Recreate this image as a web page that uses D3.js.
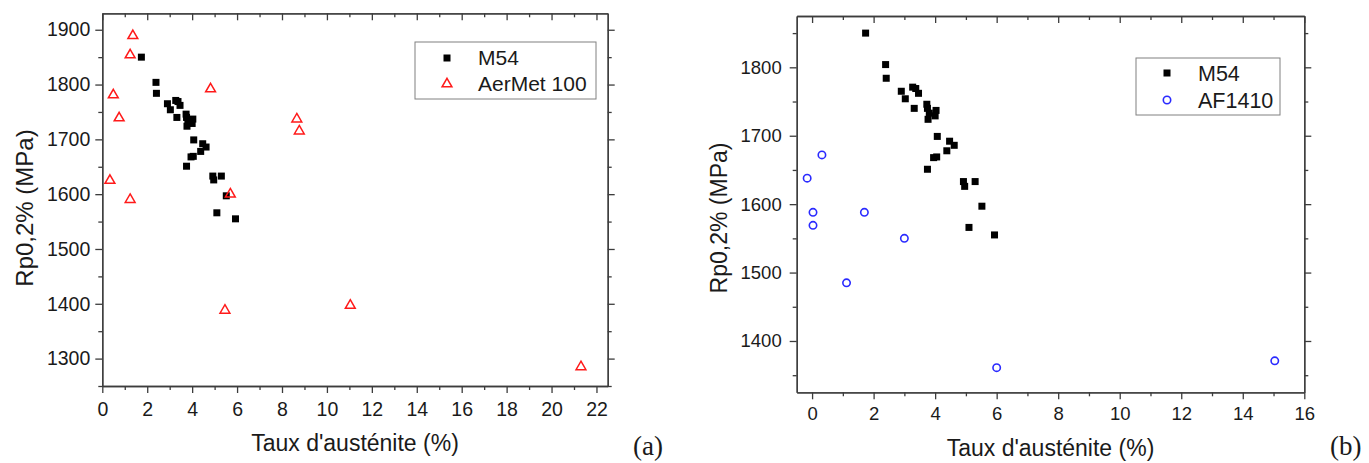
<!DOCTYPE html>
<html>
<head>
<meta charset="utf-8">
<script src="https://cdn.jsdelivr.net/npm/d3@7"></script>
<style>
  html, body { margin: 0; padding: 0; background: #fff; }
  svg { display: block; }
  text { font-family: "Liberation Sans", Arial, sans-serif; fill: #1a1a1a; }
</style>
</head>
<body>
<svg id="chart" width="1369" height="463"></svg>
<script>
// ---------- DATA ----------
// M54 (same series in both panels)
const m54X = [1.74, 2.39, 2.41, 2.90, 3.03, 3.27, 3.37, 3.46, 3.32, 3.73, 3.75, 3.81, 4.03, 4.00, 3.77, 4.07, 4.47, 4.62, 4.38, 3.95, 4.05, 3.75, 4.92, 4.96, 5.30, 5.52, 5.10, 5.93];
const m54Y = [1850, 1804, 1784, 1765, 1754, 1771, 1769, 1762, 1740, 1746, 1740, 1733, 1737, 1729, 1724, 1699, 1692, 1686, 1678, 1668, 1669, 1651, 1633, 1626, 1633, 1597, 1566, 1555];
// AerMet 100 (panel a)
const aerX = [1.36, 1.24, 0.49, 0.75, 0.34, 1.24, 4.82, 5.70, 8.66, 8.77, 5.46, 11.04, 21.31];
const aerY = [1889, 1854, 1781, 1739, 1625, 1590, 1792, 1600, 1737, 1715, 1388, 1397, 1285];
// AF1410 (panel b)
const afX = [-0.16, 0.32, 0.03, 0.03, 1.70, 3.00, 1.12, 6.00, 15.04];
const afY = [1638, 1672, 1588, 1569, 1588, 1550, 1485, 1361, 1371];

// tick values
const aXTicks = [0, 2, 4, 6, 8, 10, 12, 14, 16, 18, 20, 22];
const aYTicks = [1300, 1400, 1500, 1600, 1700, 1800, 1900];
const bXTicks = [0, 2, 4, 6, 8, 10, 12, 14, 16];
const bYTicks = [1400, 1500, 1600, 1700, 1800];

const xTitle = "Taux d'austénite (%)";
const yTitle = "Rp0,2% (MPa)";

// ---------- DRAW ----------
const svg = d3.select("#chart");
const axisColor = "#3c3c3c";

function minorOf(major, step, lo, hi) {
  const out = [];
  for (let v = lo; v <= hi + 1e-9; v += step) {
    const r = Math.round(v * 1000) / 1000;
    if (!major.some(m => Math.abs(m - r) < 1e-6)) out.push(r);
  }
  return out;
}

function panel(cfg) {
  const g = svg.append("g");
  const x = d3.scaleLinear().domain(cfg.xDom).range([cfg.left, cfg.right]);
  const y = d3.scaleLinear().domain(cfg.yDom).range([cfg.bottom, cfg.top]);

  const style = sel => {
    sel.selectAll("path.domain").attr("stroke", axisColor).attr("stroke-width", 1.3);
    sel.selectAll(".tick line").attr("stroke", axisColor).attr("stroke-width", 1.3);
    sel.selectAll(".tick text").attr("fill", "#1a1a1a")
      .style("font-family", '"Liberation Sans", Arial, sans-serif')
      .style("font-size", cfg.tickFont + "px");
  };

  const xMinor = minorOf(cfg.xTicks, 1, Math.ceil(cfg.xDom[0]), Math.floor(cfg.xDom[1]));
  const yMinor = minorOf(cfg.yTicks, 50, Math.ceil(cfg.yDom[0] / 50) * 50, cfg.yDom[1]);

  // bottom
  g.append("g").attr("transform", `translate(0,${cfg.bottom})`)
    .call(d3.axisBottom(x).tickValues(cfg.xTicks).tickSize(7).tickSizeOuter(0).tickPadding(cfg.xPad).tickFormat(d3.format("d")))
    .call(style);
  g.append("g").attr("transform", `translate(0,${cfg.bottom})`)
    .call(d3.axisBottom(x).tickValues(xMinor).tickSize(4).tickSizeOuter(0).tickFormat(""))
    .call(style);
  // top (ticks inward)
  g.append("g").attr("transform", `translate(0,${cfg.top})`)
    .call(d3.axisTop(x).tickValues(cfg.xTicks).tickSize(-7).tickSizeOuter(0).tickFormat(""))
    .call(style);
  g.append("g").attr("transform", `translate(0,${cfg.top})`)
    .call(d3.axisTop(x).tickValues(xMinor).tickSize(-4).tickSizeOuter(0).tickFormat(""))
    .call(style);
  // left
  g.append("g").attr("transform", `translate(${cfg.left},0)`)
    .call(d3.axisLeft(y).tickValues(cfg.yTicks).tickSize(7).tickSizeOuter(0).tickPadding(cfg.yPad).tickFormat(d3.format("d")))
    .call(style);
  g.append("g").attr("transform", `translate(${cfg.left},0)`)
    .call(d3.axisLeft(y).tickValues(yMinor).tickSize(4).tickSizeOuter(0).tickFormat(""))
    .call(style);
  // right (ticks outward)
  g.append("g").attr("transform", `translate(${cfg.right},0)`)
    .call(d3.axisRight(y).tickValues(cfg.yTicks).tickSize(7).tickSizeOuter(0).tickFormat(""))
    .call(style);
  g.append("g").attr("transform", `translate(${cfg.right},0)`)
    .call(d3.axisRight(y).tickValues(yMinor).tickSize(4).tickSizeOuter(0).tickFormat(""))
    .call(style);

  // data: M54 squares
  const sq = 7;
  g.append("g").selectAll("rect").data(d3.zip(m54X, m54Y)).join("rect")
    .attr("x", d => x(d[0]) - sq / 2).attr("y", d => y(d[1]) - sq / 2)
    .attr("width", sq).attr("height", sq).attr("fill", "#000");

  // second series
  const s2 = d3.zip(cfg.s2X, cfg.s2Y);
  if (cfg.s2Type === "triangle") {
    const tri = d3.symbol().type(d3.symbolTriangle).size(42);
    g.append("g").selectAll("path").data(s2).join("path")
      .attr("d", tri).attr("transform", d => `translate(${x(d[0])},${y(d[1])})`)
      .attr("fill", "none").attr("stroke", cfg.s2Color).attr("stroke-width", 1.5);
  } else {
    g.append("g").selectAll("circle").data(s2).join("circle")
      .attr("cx", d => x(d[0])).attr("cy", d => y(d[1])).attr("r", 3.7)
      .attr("fill", "none").attr("stroke", cfg.s2Color).attr("stroke-width", 1.6);
  }

  // legend
  const L = cfg.legend;
  g.append("rect").attr("x", L.x).attr("y", L.y).attr("width", L.w).attr("height", L.h)
    .attr("fill", "#fff").attr("stroke", "#808080").attr("stroke-width", 1);
  g.append("rect").attr("x", L.mx - 3.5).attr("y", L.y1 - 3.5).attr("width", 7).attr("height", 7).attr("fill", "#000");
  if (cfg.s2Type === "triangle") {
    g.append("path").attr("d", d3.symbol().type(d3.symbolTriangle).size(42))
      .attr("transform", `translate(${L.mx},${L.y2})`)
      .attr("fill", "none").attr("stroke", cfg.s2Color).attr("stroke-width", 1.5);
  } else {
    g.append("circle").attr("cx", L.mx).attr("cy", L.y2).attr("r", 3.7)
      .attr("fill", "none").attr("stroke", cfg.s2Color).attr("stroke-width", 1.6);
  }
  g.append("text").attr("x", L.tx).attr("y", L.y1).attr("dy", "0.35em")
    .style("font-size", L.font + "px").text("M54");
  g.append("text").attr("x", L.tx).attr("y", L.y2).attr("dy", "0.35em")
    .style("font-size", L.font + "px").text(cfg.s2Name);

  // axis titles
  g.append("text").attr("x", (cfg.left + cfg.right) / 2).attr("y", cfg.xTitleY)
    .attr("text-anchor", "middle").style("font-size", cfg.xTitleFont + "px").text(xTitle);
  g.append("text").attr("transform", `translate(${cfg.yTitleX},${cfg.yTitleY}) rotate(-90)`)
    .attr("text-anchor", "middle").style("font-size", cfg.yTitleFont + "px").text(yTitle);

  // panel tag
  g.append("text").attr("x", cfg.tagX).attr("y", cfg.tagY)
    .style("font-family", '"Liberation Serif", "DejaVu Serif", serif')
    .style("font-size", "27px").attr("fill", "#111").text(cfg.tag);
}

panel({
  left: 102.3, right: 607.7, top: 13.3, bottom: 386,
  xDom: [0, 22.5], yDom: [1250, 1930],
  xTicks: aXTicks, yTicks: aYTicks,
  tickFont: 19.5, xPad: 9, yPad: 5, xTitleFont: 23, yTitleFont: 24,
  s2X: aerX, s2Y: aerY, s2Type: "triangle", s2Color: "#ff1a1a", s2Name: "AerMet 100",
  legend: { x: 415, y: 42, w: 181, h: 57, mx: 447, y1: 58, y2: 84, tx: 478, font: 21 },
  xTitleY: 451, yTitleX: 33, yTitleY: 208,
  tag: "(a)", tagX: 633, tagY: 455
});

panel({
  left: 796.7, right: 1304.3, top: 16, bottom: 392.3,
  xDom: [-0.5, 16], yDom: [1325, 1875],
  xTicks: bXTicks, yTicks: bYTicks,
  tickFont: 18.5, xPad: 8, yPad: 8, xTitleFont: 23, yTitleFont: 23,
  s2X: afX, s2Y: afY, s2Type: "circle", s2Color: "#2a2aff", s2Name: "AF1410",
  legend: { x: 1136, y: 58, w: 144, h: 57, mx: 1167, y1: 73, y2: 100, tx: 1198, font: 21.5 },
  xTitleY: 456, yTitleX: 727, yTitleY: 218,
  tag: "(b)", tagX: 1330, tagY: 455
});
</script>
</body>
</html>
